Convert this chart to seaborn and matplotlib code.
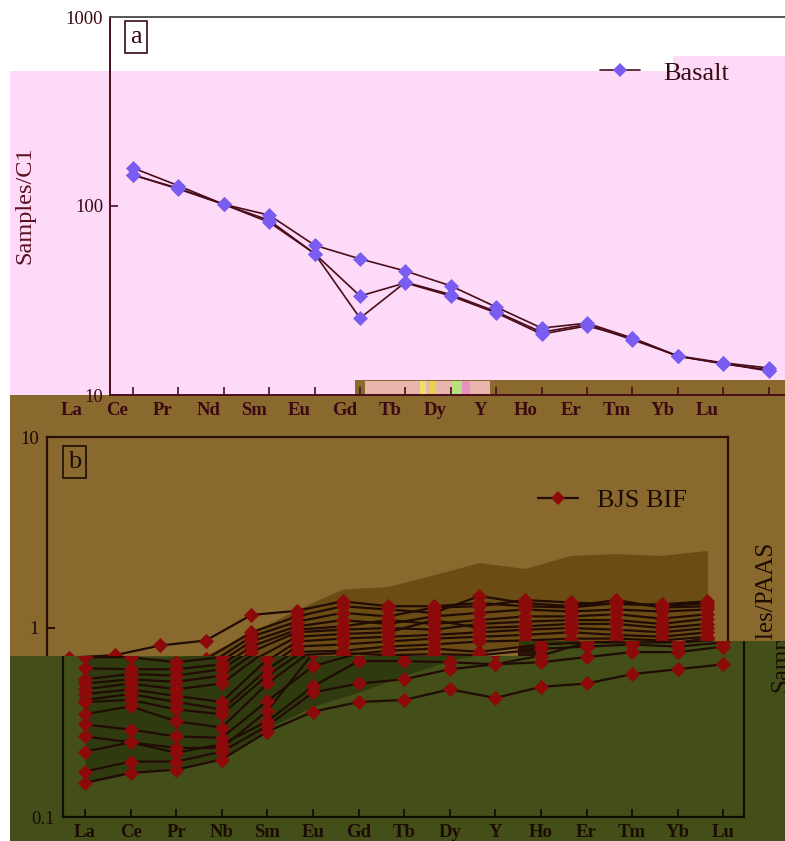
import numpy as np
import pandas as pd
import matplotlib
matplotlib.use("Agg")
import matplotlib.pyplot as plt
import matplotlib.transforms as mtransforms
from matplotlib.patches import Rectangle, Polygon
from matplotlib.lines import Line2D
from matplotlib.ticker import NullLocator, FixedLocator
import seaborn as sns

# ---------------- data ----------------
ree_a = ["La", "Ce", "Pr", "Nd", "Sm", "Eu", "Gd", "Tb", "Dy", "Y", "Ho", "Er", "Tm", "Yb", "Lu"]
basalt_1 = [159, 128, 102, 89.5, 62, 52.5, 45.3, 37.8, 29.2, 22.6, 24.0, 20.0, 16.1, 14.8, 13.9]
basalt_2 = [146, 123, 102, 84, 56, 33.4, 39.2, 33.4, 27.2, 21.0, 23.2, 20.0, 16.0, 14.7, 13.4]
basalt_3 = [146, 124, 102, 82, 56, 25.5, 39.5, 34.0, 27.6, 21.5, 23.6, 19.6, 16.1, 14.6, 13.6]

ree_b = ["La", "Ce", "Pr", "Nb", "Sm", "Eu", "Gd", "Tb", "Dy", "Y", "Ho", "Er", "Tm", "Yb", "Lu"]
bif_t = [0.70, 0.72, 0.81, 0.86, 1.17, 1.23, 1.38, 1.30, 1.30, 1.35, 1.30, 1.28, 1.35, 1.30, 1.35]
bif_m1 = [0.687, 0.687, 0.646, 0.687, 0.95, 1.15, 1.30, 1.25, 1.20, 1.47, 1.35, 1.30, 1.40, 1.28, 1.30]
bif_m2 = [0.60, 0.594, 0.594, 0.63, 0.90, 1.08, 1.20, 1.15, 1.28, 1.30, 1.40, 1.36, 1.33, 1.33, 1.38]
bif_m3 = [0.526, 0.56, 0.55, 0.594, 0.85, 1.02, 1.10, 1.05, 1.15, 1.20, 1.25, 1.22, 1.25, 1.22, 1.25]
bif_m4 = [0.50, 0.526, 0.51, 0.55, 0.80, 0.98, 1.02, 1.10, 1.05, 1.10, 1.15, 1.15, 1.18, 1.12, 1.18]
bif_m5 = [0.466, 0.50, 0.466, 0.50, 0.75, 0.95, 0.98, 1.00, 0.98, 1.05, 1.08, 1.10, 1.10, 1.05, 1.12]
bif_m6 = [0.44, 0.466, 0.43, 0.40, 0.67, 0.90, 0.93, 0.95, 1.10, 1.00, 1.02, 1.05, 1.05, 1.00, 1.05]
bif_m7 = [0.41, 0.44, 0.40, 0.366, 0.594, 0.85, 0.88, 0.90, 0.92, 0.95, 0.98, 1.00, 0.98, 0.95, 1.00]
bif_m8 = [0.40, 0.41, 0.366, 0.345, 0.55, 0.80, 0.82, 0.85, 0.88, 0.90, 0.92, 0.95, 0.92, 0.90, 0.95]
bif_m9 = [0.345, 0.38, 0.317, 0.294, 0.50, 0.75, 0.76, 0.80, 0.82, 0.85, 0.86, 0.88, 0.88, 0.86, 0.90]
bif_m10 = [0.305, 0.287, 0.264, 0.26, 0.405, 0.616, 0.72, 0.76, 0.78, 0.75, 0.80, 0.82, 0.85, 0.82, 0.85]
bif_m11 = [0.264, 0.246, 0.23, 0.23, 0.36, 0.72, 0.74, 0.72, 0.73, 0.72, 0.76, 0.78, 0.80, 0.78, 0.82]
bif_l3 = [0.22, 0.246, 0.217, 0.24, 0.317, 0.483, 0.655, 0.655, 0.646, 0.63, 0.70, 0.82, 0.82, 0.82, 0.88]
bif_l2 = [0.173, 0.195, 0.195, 0.22, 0.30, 0.449, 0.50, 0.526, 0.594, 0.63, 0.646, 0.687, 0.73, 0.73, 0.78]
bif_l1 = [0.151, 0.17, 0.177, 0.20, 0.28, 0.356, 0.40, 0.41, 0.466, 0.42, 0.48, 0.50, 0.56, 0.594, 0.63]
field_upper = [0.70, 0.68, 0.69, 0.72, 0.95, 1.25, 1.60, 1.65, 1.90, 2.20, 2.05, 2.40, 2.45, 2.40, 2.55]
field_lower = [0.15, 0.17, 0.18, 0.20, 0.29, 0.38, 0.45, 0.55, 0.66, 0.74, 0.80, 0.84, 0.86, 0.86, 0.90]

basalt = {"B1": basalt_1, "B2": basalt_2, "B3": basalt_3}
bif = {"T": bif_t, "M1": bif_m1, "M2": bif_m2, "M3": bif_m3, "M4": bif_m4, "M5": bif_m5,
       "M6": bif_m6, "M7": bif_m7, "M8": bif_m8, "M9": bif_m9, "M10": bif_m10, "M11": bif_m11,
       "L3": bif_l3, "L2": bif_l2, "L1": bif_l1}


def long_df(d):
    rows = []
    for name, vals in d.items():
        for i, v in enumerate(vals):
            rows.append({"sample": name, "pos": i, "value": v})
    return pd.DataFrame(rows)


df_a = long_df(basalt)
df_b = long_df(bif)

# ---------------- style ----------------
sns.set_style("ticks")
plt.rcParams["font.family"] = ["Liberation Serif", "DejaVu Serif"]

W, H = 785, 841
fig = plt.figure(figsize=(W / 100, H / 100), dpi=100)
fig.patch.set_facecolor("white")


def fx(px):
    return px / W


def fy(py):
    return 1 - py / H


def bg(x0, y0, x1, y1, color, z=-5):
    fig.add_artist(Rectangle((fx(x0), fy(y1)), (x1 - x0) / W, (y1 - y0) / H,
                             transform=fig.transFigure, facecolor=color, lw=0, zorder=z))


PINK = "#fddaf7"
BROWN = "#8a692f"
GREEN = "#434e18"
# backgrounds
bg(10, 71, 800, 395, PINK)
bg(673, 56, 800, 72, PINK)
bg(355, 380, 800, 396, BROWN)
bg(10, 395, 800, 660, BROWN)
bg(10, 380, 355, 395, PINK)
bg(10, 656, 800, 845, GREEN)
bg(519, 641, 800, 657, GREEN)
# glitch bits
bg(365, 381, 490, 395, "#e8b4ac", z=-4)
bg(420, 381, 426, 395, "#f0e070", z=-3)
bg(430, 381, 436, 395, "#e6d24a", z=-3)
bg(452, 381, 462, 395, "#b8e080", z=-3)
bg(462, 381, 470, 395, "#e890c0", z=-3)
bg(518, 641, 536, 656, "#2a1206", z=-3)
bg(540, 642, 548, 650, "#c86a30", z=-3)

# ---------------- panel a ----------------
MAROON = "#4a0d1a"
PURPLE = "#7a5cf0"
ax1 = fig.add_axes([fx(110), fy(395), (792 - 110) / W, (395 - 17) / H])
ax1.set_facecolor("none")
sns.lineplot(data=df_a, x="pos", y="value", units="sample", estimator=None, sort=False,
             color=MAROON, lw=1.2, legend=False, ax=ax1, zorder=2)
sns.scatterplot(data=df_a, x="pos", y="value", marker="D", s=58, color=PURPLE,
                linewidth=0, legend=False, ax=ax1, zorder=3)
ax1.set_yscale("log")
ax1.set_ylim(10, 1000)
ax1.set_xlim(-0.507, 14.515)
ax1.yaxis.set_major_locator(FixedLocator([10, 100, 1000]))
ax1.yaxis.set_minor_locator(NullLocator())
ax1.set_yticklabels(["10", "100", "1000"], fontsize=13.5)
ax1.set_xticks(range(len(ree_a)))
ax1.set_xticklabels(ree_a, fontsize=13.5, fontweight="bold")
ax1.set_xlabel("")
ax1.set_ylabel("")
ax1.tick_params(axis="both", direction="in", length=6, width=1.2, colors=MAROON,
                labelcolor="#3a0a12", pad=5)
ax1.tick_params(axis="x", pad=5)
ax1.spines["right"].set_visible(False)
for s in ["left", "top", "bottom"]:
    ax1.spines[s].set_color(MAROON)
    ax1.spines[s].set_linewidth(1.4)
ax1.spines["top"].set_color("#555555")
offset = mtransforms.ScaledTranslation(-61 / 100, 0, fig.dpi_scale_trans)
for lbl in ax1.get_xticklabels():
    lbl.set_transform(lbl.get_transform() + offset)
ax1.text(136, 37, "a", transform=mtransforms.IdentityTransform() +
         mtransforms.Affine2D().scale(1, -1).translate(0, H), fontsize=19,
         ha="center", va="center", color="#3a0a12",
         bbox=dict(boxstyle="square,pad=0.18", fc="none", ec="#3a0a12", lw=1.2))
fig.text(fx(25), fy(205), "Samples/C1", rotation=90, fontsize=17.5, color="#5a1020",
         ha="center", va="center")
h_a = Line2D([], [], color=MAROON, lw=1.2, marker="D", ms=7.5, mfc=PURPLE, mec=PURPLE, mew=0)
fig.legend([h_a], ["Basalt"], loc="center left", bbox_to_anchor=(fx(600), fy(73)),
           frameon=False, fontsize=19, handlelength=1.5, handletextpad=0.9,
           borderpad=0, borderaxespad=0, labelcolor="#3a0a12")

# ---------------- panel b ----------------
DARK = "#200c04"
RED = "#8c0a0a"


def clip_all(ax, patch):
    for a in ax.findobj():
        if a is ax:
            continue
        try:
            a.set_clip_on(True)
            a.set_clip_path(patch)
        except Exception:
            pass


def panel_b(left, top, fillc, spinec, upper):
    ax = fig.add_axes([fx(left), fy(top + 382), (681) / W, 382 / H])
    ax.set_facecolor("none")
    ax.fill_between(range(len(ree_b)), field_lower, field_upper, color=fillc, lw=0, zorder=1)
    sns.lineplot(data=df_b, x="pos", y="value", units="sample", estimator=None, sort=False,
                 color=DARK, lw=1.6, legend=False, ax=ax, zorder=2)
    sns.scatterplot(data=df_b, x="pos", y="value", marker="D", s=60, color=RED,
                    linewidth=0, legend=False, ax=ax, zorder=3)
    ax.set_yscale("log")
    ax.set_ylim(0.1, 10)
    ax.set_xlim(-0.482, 14.452)
    ax.yaxis.set_major_locator(FixedLocator([0.1, 1, 10]))
    ax.yaxis.set_minor_locator(NullLocator())
    ax.set_xticks(range(len(ree_b)))
    if upper:
        ax.set_yticklabels(["", "1", "10"], fontsize=13.5)
        ax.set_xticklabels(["" for _ in ree_b])
    else:
        ax.set_yticklabels(["0.1", "", ""], fontsize=13.5)
        ax.set_xticklabels(ree_b, fontsize=13.5, fontweight="bold")
    ax.set_xlabel("")
    ax.set_ylabel("")
    ax.tick_params(axis="both", direction="in", length=6, width=1.3, colors=spinec,
                   labelcolor="#1c0c04", pad=6)
    ax.tick_params(axis="x", pad=5)
    for s in ax.spines.values():
        s.set_color(spinec)
        s.set_linewidth(1.6)
    if upper:
        ax.text(0.04, 0.935, "b", transform=ax.transAxes, fontsize=19, ha="center",
                va="center", color="#1c0c04",
                bbox=dict(boxstyle="square,pad=0.18", fc="none", ec="#1c0c04", lw=1.2))
        h_b = Line2D([], [], color=DARK, lw=1.6, marker="D", ms=7.5, mfc=RED, mec=RED, mew=0)
        ax.legend([h_b], ["BJS BIF"], loc="center left", bbox_to_anchor=(fx(538), fy(500)),
                  bbox_transform=fig.transFigure, frameon=False, fontsize=19,
                  handlelength=1.5, handletextpad=0.75, borderpad=0, borderaxespad=0,
                  labelcolor="#1c0c04")
    return ax


upper_pts = [(-100, -100), (900, -100), (900, 641), (519, 641), (519, 656), (-100, 656)]
lower_pts = [(-100, 656), (519, 656), (519, 641), (900, 641), (900, 900), (-100, 900)]
clip_up = Polygon([(fx(x), fy(y)) for x, y in upper_pts], closed=True, transform=fig.transFigure)
clip_lo = Polygon([(fx(x), fy(y)) for x, y in lower_pts], closed=True, transform=fig.transFigure)

ax2 = panel_b(47, 437, "#6a4c14", "#2a1006", True)
clip_all(ax2, clip_up)
ax3 = panel_b(63, 435, "#2f3a0f", "#0c1004", False)
clip_all(ax3, clip_lo)

# y label of panel b, split by the brown / green boundary (rectangular clips for text)
rect_up = Rectangle((0, fy(641)), 1, 1 - fy(641), transform=fig.transFigure)
rect_lo = Rectangle((0, 0), 1, fy(641), transform=fig.transFigure)
t1 = fig.text(fx(765), fy(617), "Samples/PAAS", rotation=90, fontsize=18, color="#1c0c04",
              ha="center", va="center")
t1.set_clip_on(True)
t1.set_clip_path(rect_up)
t2 = fig.text(fx(781), fy(615), "Samples/PAAS", rotation=90, fontsize=18, color="#1c0c04",
              ha="center", va="center")
t2.set_clip_on(True)
t2.set_clip_path(rect_lo)

fig.savefig("out.png", dpi=100, facecolor="white")
